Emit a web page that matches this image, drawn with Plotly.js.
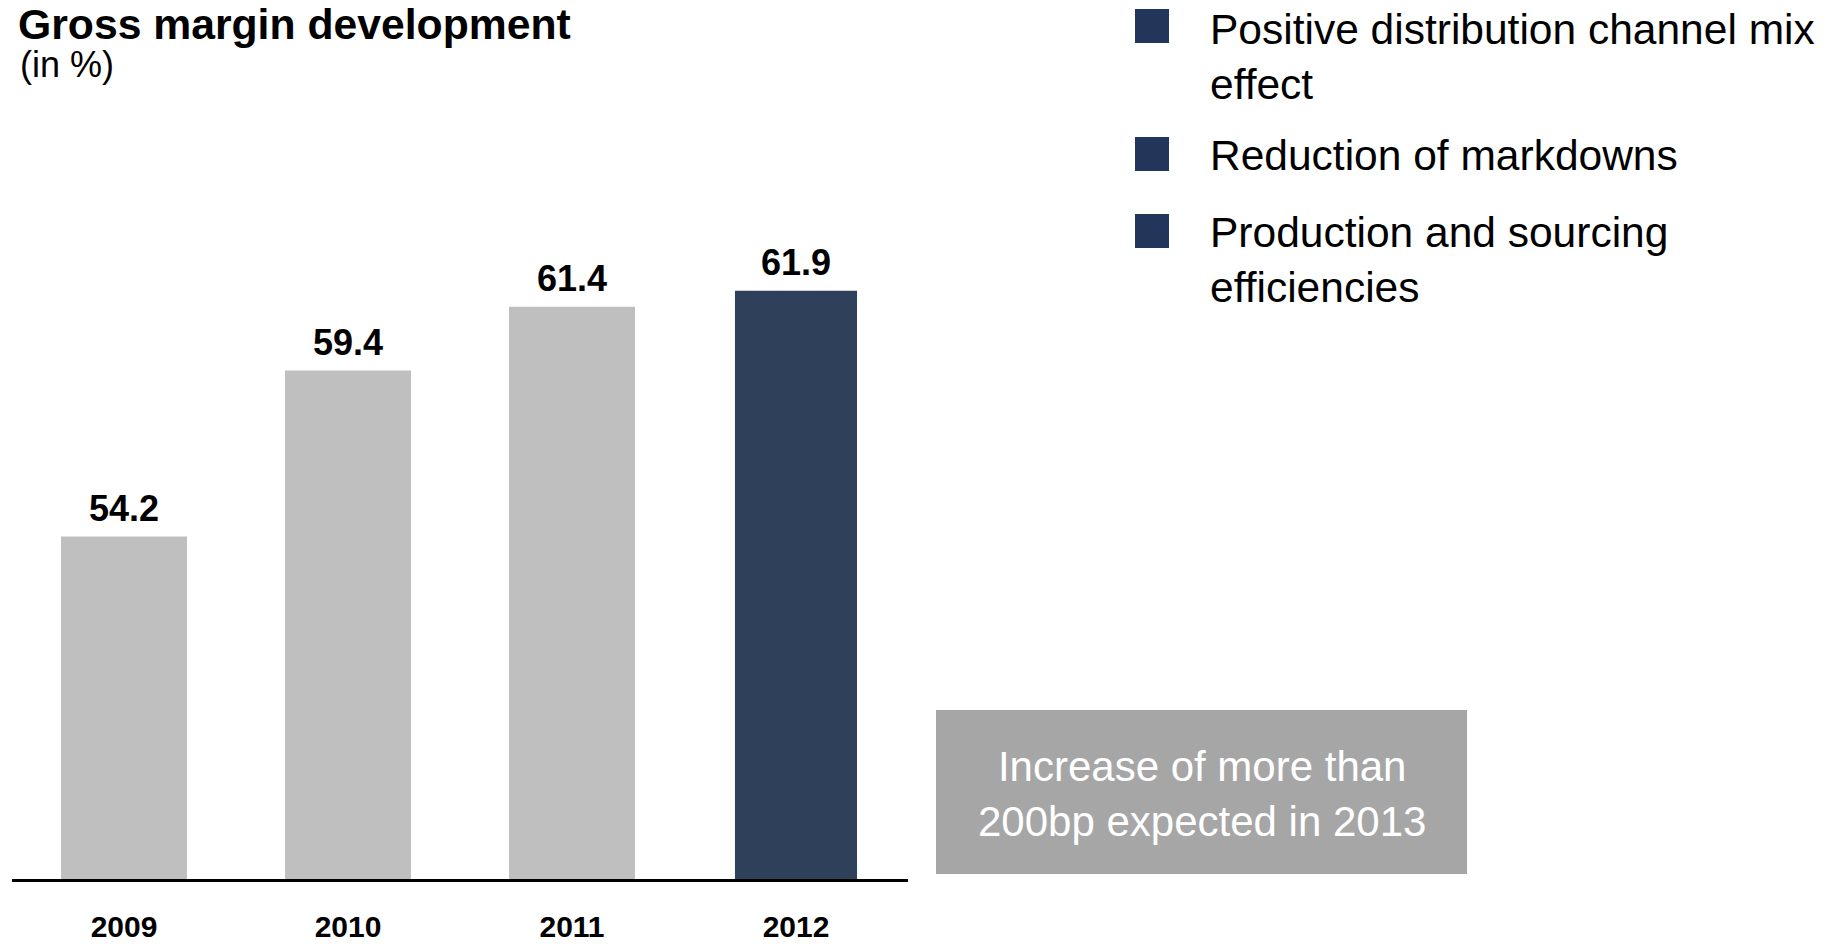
<!DOCTYPE html>
<html>
<head>
<meta charset="utf-8">
<script src="https://cdn.plot.ly/plotly-3.0.1.min.js"></script>
<style>
  html, body { margin: 0; padding: 0; background: #ffffff; }
  #chart { width: 1837px; height: 944px; }
</style>
</head>
<body>
<div id="chart"></div>
<script>
// ---- Data ----
const years = ['2009', '2010', '2011', '2012'];
const grossMargin = [54.2, 59.4, 61.4, 61.9];
const drivers = [
  'Positive distribution channel mix<br>effect',
  'Reduction of markdowns',
  'Production and sourcing<br>efficiencies'
];
const outlookText = 'Increase of more than<br>200bp expected in 2013';
const chartTitle = 'Gross margin development';
const unitLabel = '(in %)';

// ---- Styling ----
const FONT = '"Liberation Sans", Arial, Helvetica, sans-serif';
const W = 1837, H = 944;
const M = { l: 12, r: 929, t: 0, b: 65 };
const plotW = W - M.l - M.r;
const plotH = H - M.t - M.b;
// pixel -> paper helpers (for decorations outside the bar plot)
const px = x => (x - M.l) / plotW;
const py = y => (H - M.b - y) / plotH;

const barColors = ['#bfbfbf', '#bfbfbf', '#bfbfbf', '#2e405a'];
const barWidths = [0.5625, 0.5625, 0.5625, 0.545];

const trace = {
  type: 'bar',
  x: years,
  y: grossMargin,
  width: barWidths,
  marker: { color: barColors, line: { width: 0 } },
  hoverinfo: 'skip'
};

const squareColor = '#22355a';
const squares = [[9, 43], [137, 171], [214, 248]];
const shapes = squares.map(([t, b]) => ({
  type: 'rect', xref: 'paper', yref: 'paper',
  x0: px(1135), x1: px(1169), y0: py(b), y1: py(t),
  fillcolor: squareColor, line: { width: 0 }, layer: 'above'
}));
// outlook box
shapes.push({
  type: 'rect', xref: 'paper', yref: 'paper',
  x0: px(936), x1: px(1467), y0: py(874), y1: py(710),
  fillcolor: '#a6a6a6', line: { width: 0 }, layer: 'above'
});

// value labels above bars, placed in data coordinates (category index on x)
const annotations = years.map((yr, i) => ({
  xref: 'x', yref: 'y',
  x: i, y: grossMargin[i],
  xanchor: 'center', yanchor: 'bottom',
  yshift: 6,
  text: '<b>' + grossMargin[i].toFixed(1) + '</b>',
  showarrow: false,
  font: { family: FONT, size: 36, color: '#000000' }
}));

const driverTops = [4, 130, 207];
drivers.forEach((d, i) => annotations.push({
  xref: 'paper', yref: 'paper',
  x: px(1208), y: py(driverTops[i]),
  xanchor: 'left', yanchor: 'top', align: 'left',
  text: d, showarrow: false,
  font: { family: FONT, size: 42.5, color: '#000000' }
}));
annotations.push({
  xref: 'paper', yref: 'paper',
  x: px(1201.5), y: py(794),
  xanchor: 'center', yanchor: 'middle', align: 'center',
  text: outlookText, showarrow: false,
  font: { family: FONT, size: 42, color: '#ffffff' }
});
annotations.push({
  xref: 'paper', yref: 'paper',
  x: px(18), y: py(65),
  xanchor: 'left', yanchor: 'middle', align: 'left',
  text: unitLabel, showarrow: false,
  font: { family: FONT, size: 36, color: '#000000' }
});

const layout = {
  width: W, height: H,
  margin: M,
  paper_bgcolor: '#ffffff',
  plot_bgcolor: '#ffffff',
  showlegend: false,
  title: {
    text: '<b>' + chartTitle + '</b>',
    xref: 'container', yref: 'container',
    x: 18 / W, xanchor: 'left',
    y: 1, yanchor: 'top',
    pad: { t: 9, l: 0 },
    font: { family: FONT, size: 42.7, color: '#000000' }
  },
  xaxis: {
    type: 'category',
    range: [-0.5, 3.5],
    showline: true, linecolor: '#000000', linewidth: 2.5,
    showgrid: false, zeroline: false,
    ticks: '',
    ticklabelstandoff: 19,
    tickfont: { family: FONT, size: 30, color: '#000000', weight: 'bold' },
    fixedrange: true
  },
  yaxis: {
    range: [43.48, 71.0],
    showline: false, showgrid: false, zeroline: false,
    showticklabels: false, ticks: '',
    fixedrange: true
  },
  shapes: shapes,
  annotations: annotations,
  bargap: 0.4375
};

Plotly.newPlot('chart', [trace], layout, { displayModeBar: false, staticPlot: true });
</script>
</body>
</html>
